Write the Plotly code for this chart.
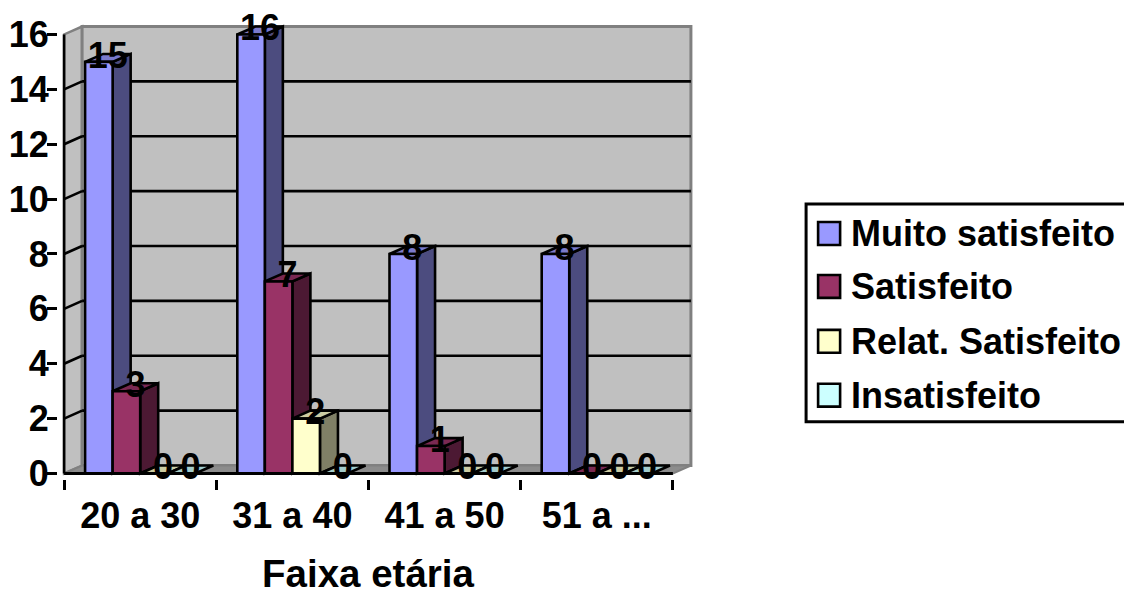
import plotly.graph_objects as go

categories = ["20 a 30", "31 a 40", "41 a 50", "51 a ..."]
series_names = ["Muito satisfeito", "Satisfeito", "Relat. Satisfeito", "Insatisfeito"]
muito_satisfeito = [15, 16, 8, 8]
satisfeito = [3, 7, 1, 0]
relat_satisfeito = [0, 2, 0, 0]
insatisfeito = [0, 0, 0, 0]
series_values = [muito_satisfeito, satisfeito, relat_satisfeito, insatisfeito]
y_ticks = [0, 2, 4, 6, 8, 10, 12, 14, 16]

front_colors = ["#9999FF", "#993366", "#FFFFCC", "#CCFFFF"]
side_colors = ["#4C4C7F", "#4C1933", "#7F7F66", "#667F7F"]
top_colors = ["#7A7ACC", "#7A2952", "#CCCCA3", "#A3CCCC"]

WIDTH, HEIGHT = 1124, 594
FONT = "Liberation Sans"
WALL = "#C0C0C0"
EDGE = "#808080"
STROKE = 2.6

# Pixel placement of the value 0 / category origin and the scale of each axis.
X0_PX, Y0_PX = 64.5, 474.0
PX_PER_CAT, PX_PER_UNIT = 152.1, 27.5
# Oblique depth of the pseudo-3D box, in axis units.
DX, DY = 18 / PX_PER_CAT, 8 / PX_PER_UNIT
BAR_GAP = 0.276
BAR_W = (1 - BAR_GAP) / 4

x_range = [-0.04, 4 + DX + 0.04]
y_range = [-0.2, 16 + DY + 0.2]
m_l = X0_PX + x_range[0] * PX_PER_CAT
m_r = WIDTH - (X0_PX + x_range[1] * PX_PER_CAT)
m_b = HEIGHT - (Y0_PX - y_range[0] * PX_PER_UNIT)
m_t = Y0_PX - y_range[1] * PX_PER_UNIT


def px_x(px):
    return (px - m_l) / (WIDTH - m_l - m_r)


def px_y(py):
    return 1 - (py - m_t) / (HEIGHT - m_t - m_b)


def poly(points, fill, line, lw=STROKE, layer="below"):
    path = "M " + " L ".join(f"{x:.4f} {y:.4f}" for x, y in points) + " Z"
    return dict(type="path", path=path, xref="x", yref="y", fillcolor=fill,
                line=dict(color=line, width=lw), layer=layer)


def seg(x0, y0, x1, y1, color, lw=STROKE, layer="below"):
    return dict(type="line", x0=x0, y0=y0, x1=x1, y1=y1, xref="x", yref="y",
                line=dict(color=color, width=lw), layer=layer)


shapes = []
# Chart box: side wall, back wall, floor.
shapes.append(poly([(0, 0), (DX, DY), (DX, 16 + DY), (0, 16)], WALL, EDGE, 2.5))
shapes.append(poly([(DX, DY), (4 + DX, DY), (4 + DX, 16 + DY), (DX, 16 + DY)], WALL, EDGE, 3))
shapes.append(poly([(0, 0), (4, 0), (4 + DX, DY), (DX, DY)], "#8C8C8C", EDGE, 2))

# Gridlines on the back wall with their diagonal run along the side wall.
for v in y_ticks[1:-1]:
    shapes.append(seg(DX, v + DY, 4 + DX, v + DY, "black"))
    shapes.append(seg(0, v, DX, v + DY, "black"))

# Side and top faces sit below the front faces, which are the bar traces.
centers = []
for k, values in enumerate(series_values):
    xs = [i + 0.5 + (k - 1.5) * BAR_W for i in range(len(categories))]
    centers.append(xs)
    for x, v in zip(xs, values):
        left, right = x - BAR_W / 2, x + BAR_W / 2
        if v > 0:
            shapes.append(poly([(right, 0), (right + DX, DY), (right + DX, v + DY), (right, v)],
                               side_colors[k], "black"))
        shapes.append(poly([(left, v), (right, v), (right + DX, v + DY), (left + DX, v + DY)],
                           top_colors[k], "black"))

# Front axis lines.
shapes.append(seg(0, 0, 0, 16, "black", STROKE, "above"))
shapes.append(seg(0, 0, 4, 0, "black", 3, "above"))

# Legend box and swatches.
legend_rows = [(222, 245, 233.5), (275, 298, 286.5), (330, 353, 341.5), (384, 407, 395.5)]
shapes.append(dict(type="rect", xref="paper", yref="paper",
                   x0=px_x(806), x1=px_x(1135), y0=px_y(422), y1=px_y(204),
                   fillcolor="white", line=dict(color="black", width=3), layer="above"))
annotations = []
for name, color, (top, bottom, mid) in zip(series_names, front_colors, legend_rows):
    shapes.append(dict(type="rect", xref="paper", yref="paper",
                       x0=px_x(818), x1=px_x(840), y0=px_y(bottom), y1=px_y(top),
                       fillcolor=color, line=dict(color="black", width=STROKE), layer="above"))
    annotations.append(dict(text=f"<b>{name}</b>", xref="paper", yref="paper",
                            x=px_x(850), y=px_y(mid), xanchor="left", yanchor="middle",
                            showarrow=False, borderpad=0,
                            font=dict(family=FONT, size=36, color="black")))

annotations.append(dict(text="<b>Faixa etária</b>", xref="x", yref="paper",
                        x=2, y=px_y(574), xanchor="center", yanchor="middle",
                        showarrow=False, borderpad=0,
                        font=dict(family=FONT, size=38.5, color="black")))

fig = go.Figure()
mid_x = [i + 0.5 for i in range(len(categories))]
for k, values in enumerate(series_values):
    fig.add_trace(go.Bar(x=mid_x, y=values, name=series_names[k], showlegend=False,
                         marker=dict(color=front_colors[k], line=dict(color="black", width=STROKE))))

# Value labels float over the top face of each bar.
for k, values in enumerate(series_values):
    fig.add_trace(go.Scatter(x=[x + DX / 2 for x in centers[k]],
                             y=[v + DY * 0.4 for v in values],
                             mode="text", text=[f"<b>{v}</b>" for v in values],
                             textposition="middle center", cliponaxis=False,
                             textfont=dict(family=FONT, size=36, color="black"),
                             showlegend=False, hoverinfo="skip"))

fig.update_layout(
    width=WIDTH, height=HEIGHT, autosize=False,
    margin=dict(l=m_l, r=m_r, t=m_t, b=m_b, pad=0, autoexpand=False),
    paper_bgcolor="white", plot_bgcolor="white",
    barmode="group", bargap=BAR_GAP, bargroupgap=0,
    showlegend=False, shapes=shapes, annotations=annotations,
    font=dict(family=FONT, color="black"),
)
fig.update_xaxes(
    range=x_range, showgrid=False, zeroline=False, showline=False, automargin=False,
    tickmode="array", tickvals=mid_x, ticktext=[f"<b>{c}</b>" for c in categories],
    ticks="outside", ticklen=10, tickwidth=2, tickcolor="rgba(0,0,0,0)",
    ticklabelstandoff=-5,
    tickfont=dict(family=FONT, size=36, color="black"),
    minor=dict(tickmode="array", tickvals=[0, 1, 2, 3, 4], ticks="outside",
               ticklen=10, tickwidth=STROKE, tickcolor="black", showgrid=False),
)
fig.update_yaxes(
    range=y_range, showgrid=False, zeroline=False, showline=False, automargin=False,
    tickmode="array", tickvals=y_ticks, ticktext=[f"<b>{v}</b>" for v in y_ticks],
    ticks="outside", ticklen=10, tickwidth=STROKE, tickcolor="black", ticklabelstandoff=-9,
    tickfont=dict(family=FONT, size=36, color="black"),
)

fig.write_html("out.html", config=dict(displayModeBar=False))
